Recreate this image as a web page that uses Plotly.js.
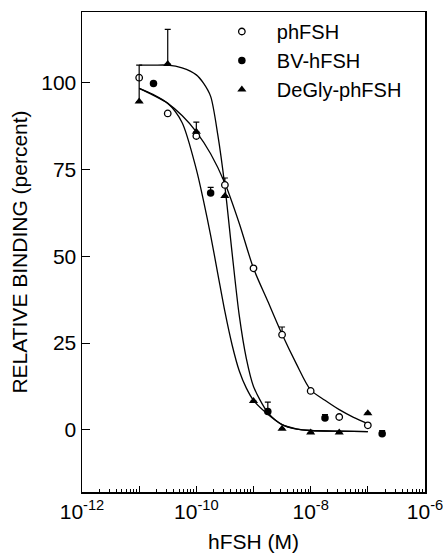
<!DOCTYPE html>
<html>
<head>
<meta charset="utf-8">
<script src="https://cdn.plot.ly/plotly-3.0.1.min.js"></script>
<style>html,body{margin:0;padding:0;background:#fff;}#chart{width:443px;height:555px;}</style>
</head>
<body>
<div id="chart"></div>
<script>
// ---- data ----
const concX = [1e-11, 3.16e-11, 1e-10, 3.16e-10, 1e-9, 3.16e-9, 1e-8, 3.16e-8, 1e-7];
const phY   = [101.4, 91.1, 84.6, 70.5, 46.5, 27.4, 11.2, 3.7, 1.3];
const phErr = [0, 0, 0, 2.0, 0, 2.2, 0, 0, 0];

const bvX   = [1.78e-11, 1.78e-10, 1.78e-9, 1.78e-8, 1.78e-7];
const bvY   = [99.7, 68.2, 5.3, 3.4, -1.1];
const bvErr = [0, 1.6, 2.7, 1.0, 0.9];

const dgY   = [94.5, 105.3, 85.8, 67.3, 8.3, 0.3, -0.8, -0.8, 4.8];
const dgErr = [10.5, 10.0, 2.8, 0, 0, 0, 0, 0, 0];

// fitted curves (log10 concentration, percent)
const phCurveLog = [-11.0, -10.75, -10.5, -10.25, -10.0, -9.75, -9.5, -9.25, -9.0, -8.75, -8.5, -8.25, -8.0, -7.75, -7.5, -7.25, -7.0];
const phCurveY   = [98.3, 96.3, 94.0, 90.5, 85.8, 79.5, 71.0, 59.5, 46.5, 37.0, 27.5, 19.0, 11.5, 8.5, 5.8, 3.6, 1.8];

const bvCurveLog = [-11.0, -10.75, -10.5, -10.25, -10.0, -9.875, -9.75, -9.625, -9.5, -9.375, -9.25, -9.125, -9.0, -8.75, -8.5, -8.25, -8.0, -7.5, -7.0];
const bvCurveY   = [98.3, 96.5, 94.0, 88.5, 75.0, 66.0, 56.0, 45.0, 34.0, 24.5, 17.0, 12.0, 8.5, 4.5, 1.5, 0.3, -0.2, -0.4, -0.5];

const dgCurveLog = [-11.0, -10.75, -10.5, -10.25, -10.0, -9.875, -9.75, -9.625, -9.5, -9.375, -9.25, -9.125, -9.0, -8.75, -8.5, -8.25, -8.0, -7.5, -7.0];
const dgCurveY   = [105.0, 105.0, 105.0, 104.2, 102.2, 99.8, 96.0, 85.0, 70.0, 51.0, 33.0, 20.5, 12.5, 5.0, 1.5, 0.2, -0.2, -0.4, -0.5];

const seriesNames = ['phFSH', 'BV-hFSH', 'DeGly-phFSH'];
const xTickVals = [1e-12, 1e-11, 1e-10, 1e-9, 1e-8, 1e-7, 1e-6];
const xTickText = ['10<sup>-12</sup>', '', '10<sup>-10</sup>', '', '10<sup>-8</sup>', '', '10<sup>-6</sup>'];
const yTickVals = [0, 25, 50, 75, 100];

// ---- chart ----
const toConc = a => a.map(v => Math.pow(10, v));
const curveLine = {color: '#000', width: 1.3, shape: 'spline', smoothing: 0.8};
const errStyle = (arr) => ({type: 'data', symmetric: false, array: arr, arrayminus: arr.map(() => 0),
  color: '#000', thickness: 1.2, width: 3});

const traces = [
  {x: toConc(phCurveLog), y: phCurveY, mode: 'lines', line: curveLine, showlegend: false, hoverinfo: 'skip'},
  {x: toConc(bvCurveLog), y: bvCurveY, mode: 'lines', line: curveLine, showlegend: false, hoverinfo: 'skip'},
  {x: toConc(dgCurveLog), y: dgCurveY, mode: 'lines', line: curveLine, showlegend: false, hoverinfo: 'skip'},
  {x: concX, y: phY, name: seriesNames[0], mode: 'markers',
   marker: {symbol: 'circle', size: 6.5, color: '#fff', line: {color: '#000', width: 1.3}},
   error_y: errStyle(phErr)},
  {x: bvX, y: bvY, name: seriesNames[1], mode: 'markers',
   marker: {symbol: 'circle', size: 7.5, color: '#000', line: {width: 0}},
   error_y: errStyle(bvErr)},
  {x: concX, y: dgY, name: seriesNames[2], mode: 'markers',
   marker: {symbol: 'triangle-up', size: 8, color: '#000', line: {width: 0}},
   error_y: errStyle(dgErr)}
];

const font = {family: '"Liberation Sans", Arial, sans-serif', color: '#000'};

const layout = {
  width: 443, height: 555,
  margin: {l: 82, r: 18, t: 12, b: 63},
  paper_bgcolor: '#fff', plot_bgcolor: '#fff',
  font: Object.assign({size: 21}, font),
  showlegend: true,
  legend: {x: 0.364, y: 1.0, xanchor: 'left', yanchor: 'top', bgcolor: 'rgba(0,0,0,0)',
    font: Object.assign({size: 20}, font), traceorder: 'normal', itemwidth: 60},
  xaxis: {
    type: 'log', range: [-12, -6], showgrid: false, zeroline: false,
    showline: true, linecolor: '#000', linewidth: 1.5, mirror: true,
    ticks: 'inside', ticklen: 6, tickwidth: 1, tickcolor: '#000',
    tickmode: 'array', tickvals: xTickVals, ticktext: xTickText,
    tickfont: Object.assign({size: 21}, font), ticklabeloverflow: 'allow',
    minor: {ticks: 'inside', ticklen: 3, tickwidth: 1, tickcolor: '#000', dtick: 'D1', showgrid: false},
    title: {text: 'hFSH (M)', font: Object.assign({size: 21}, font), standoff: 12}
  },
  yaxis: {
    range: [-17.9, 120.3], showgrid: false, zeroline: false,
    showline: true, linecolor: '#000', linewidth: 1.5, mirror: true,
    ticks: 'inside', ticklen: 8, tickwidth: 1, tickcolor: '#000',
    tickmode: 'array', tickvals: yTickVals,
    tickfont: Object.assign({size: 21}, font),
    title: {text: 'RELATIVE BINDING (percent)', font: Object.assign({size: 21}, font), standoff: 8}
  }
};

Plotly.newPlot('chart', traces, layout, {displayModeBar: false, staticPlot: true});
</script>
</body>
</html>
